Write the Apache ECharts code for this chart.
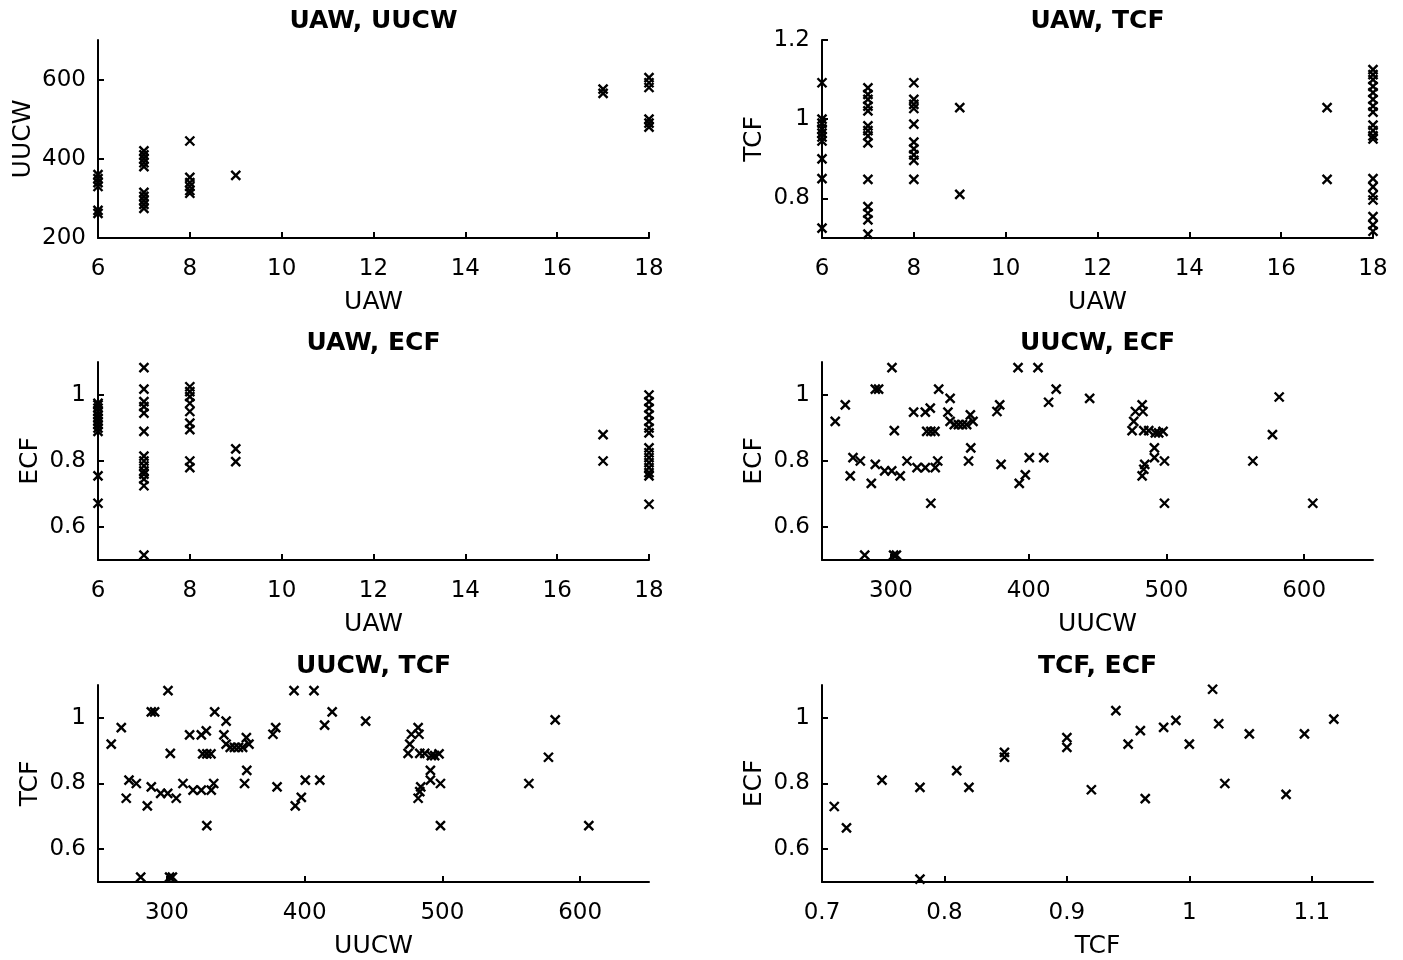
<!DOCTYPE html>
<html><head><meta charset="utf-8">
<script src="https://cdn.jsdelivr.net/npm/echarts@6/dist/echarts.min.js"></script>
<style>html,body{margin:0;padding:0;background:#fff}#c{width:1403px;height:960px}</style>
</head><body><div id="c"></div>
<script>
// ---------- data ----------
const panelTitles = ['UAW, UUCW', 'UAW, TCF', 'UAW, ECF', 'UUCW, ECF', 'UUCW, TCF', 'TCF, ECF'];

// Panel 1: UAW vs UUCW
const p1UAW  = [6,6,6,6,6,6, 7,7,7,7,7, 7,7,7,7,7, 8, 8,8,8,8,8, 9, 17,17, 18,18,18,18,18,18];
const p1UUCW = [360,350,340,330,270,262, 420,410,400,390,380, 315,305,295,285,275, 445, 353,340,330,320,313, 358, 576,565, 605,592,580,500,490,480];

// Panel 2: UAW vs TCF
const p2UAW = [6,6,6,6,6,6,6,6,6,6,
  7,7,7,7,7,7,7,7,7,7,7,7,7,7,
  8,8,8,8,8,8,8,8,8,8,
  9,9, 17,17,
  18,18,18,18,18,18,18,18,18,18,18,18,18,18,18,18,18,18,18];
const p2TCF = [1.092,1.0,0.99,0.975,0.965,0.955,0.945,0.90,0.85,0.725,
  1.079,1.0625,1.05,1.033,1.021,0.983,0.971,0.958,0.94,0.848,0.779,0.7625,0.746,0.71,
  1.092,1.05,1.0375,1.027,0.9875,0.942,0.925,0.91,0.896,0.848,
  1.029,0.81, 1.029,0.848,
  1.125,1.1125,1.1,1.083,1.067,1.05,1.033,1.018,0.985,0.971,0.958,0.95,0.85,0.829,0.808,0.796,0.754,0.733,0.717];

// Panel 3: UAW vs ECF
const p3UAW = [6,6,6,6,6,6,6,6,6,6,6,6,
  7,7,7,7,7,7,7,7,7,7,7,7,7,7,
  8,8,8,8,8,8,8,8,8,
  9,9, 17,17,
  18,18,18,18,18,18,18,18,18,18,18,18,18,18,18];
const p3ECF = [0.975,0.97,0.96,0.95,0.94,0.93,0.92,0.91,0.90,0.89,0.755,0.672,
  1.083,1.018,0.98,0.965,0.945,0.89,0.815,0.80,0.785,0.77,0.76,0.745,0.725,0.515,
  1.025,1.01,0.995,0.975,0.95,0.915,0.895,0.80,0.78,
  0.837,0.798, 0.88,0.80,
  1.0,0.98,0.96,0.94,0.92,0.90,0.885,0.84,0.825,0.81,0.795,0.78,0.765,0.755,0.669];

// Panel 4: UUCW vs ECF
const p4UUCW = [259.6,266.9,270.5,272.5,277.8,281,285.8,288.7,288.7,291.1,295.5,300.6,300.8,302.5,302,304,306.8,311.7,316.5,319,325,325,328.6,326,329,332,329,332.2,334,334.7,341.4,343,343,346,349,352,355,357.7,359.6,358,356.4,377,379,380,392.3,393.2,397.6,400.5,406.8,411,414.5,420,444.3,
  475.1,476.3,477.5,482.4,483,483.6,487.2,492,494.4,497.6,491.3,491.3,498.6,484.3,483.6,482.4,498.6,562.8,577,581.9,606.3];
const p4ECF = [0.92,0.97,0.755,0.81,0.80,0.515,0.732,0.79,1.018,1.018,0.77,0.77,1.083,0.892,0.515,0.515,0.755,0.80,0.948,0.78,0.78,0.948,0.96,0.89,0.89,0.89,0.672,0.78,0.80,1.018,0.948,0.99,0.92,0.91,0.91,0.91,0.91,0.94,0.92,0.84,0.80,0.95,0.97,0.79,1.083,0.732,0.758,0.81,1.083,0.81,0.978,1.018,0.99,
  0.892,0.92,0.95,0.97,0.95,0.892,0.892,0.885,0.885,0.89,0.84,0.81,0.80,0.79,0.775,0.755,0.672,0.80,0.88,0.994,0.672];

// Panel 5: UUCW vs TCF (same pattern as panel 4 in the source)
const p5UUCW = p4UUCW.slice();
const p5TCF  = p4ECF.slice();

// Panel 6: TCF vs ECF
const p6TCF = [0.710,0.720,0.749,0.780,0.780,0.810,0.820,0.849,0.849,0.90,0.90,0.920,0.940,0.950,0.960,0.964,0.979,0.989,1.0,1.019,1.024,1.029,1.049,1.079,1.094,1.118];
const p6ECF = [0.730,0.665,0.810,0.788,0.509,0.839,0.788,0.895,0.880,0.94,0.91,0.781,1.022,0.920,0.961,0.754,0.971,0.992,0.920,1.087,0.982,0.80,0.951,0.767,0.951,0.996];

// tick labels
const uawTicks  = [6,8,10,12,14,16,18];
const uucwYTicks = [200,400,600];
const tcfYTicks1 = [0.8,1,1.2];
const ecfTicks  = [0.6,0.8,1];
const uucwXTicks = [300,400,500,600];
const tcfXTicks = [0.7,0.8,0.9,1,1.1];

// ---------- layout ----------
const FONT = "'DejaVu Sans', 'Liberation Sans', Arial, sans-serif";
const colLeft = [98, 822];
const rowTop = [40, 362, 685];
const W = 551, H = 198;

const panels = [
  {x:[p1UAW,'UAW',6,18,uawTicks], y:[p1UUCW,'UUCW',200,700,uucwYTicks], ygap:62},
  {x:[p2UAW,'UAW',6,18,uawTicks], y:[p2TCF,'TCF',0.7,1.2,tcfYTicks1], ygap:55},
  {x:[p3UAW,'UAW',6,18,uawTicks], y:[p3ECF,'ECF',0.5,1.1,ecfTicks], ygap:55},
  {x:[p4UUCW,'UUCW',250,650,uucwXTicks], y:[p4ECF,'ECF',0.5,1.1,ecfTicks], ygap:55},
  {x:[p5UUCW,'UUCW',250,650,uucwXTicks], y:[p5TCF,'TCF',0.5,1.1,ecfTicks], ygap:55},
  {x:[p6TCF,'TCF',0.7,1.15,tcfXTicks], y:[p6ECF,'ECF',0.5,1.1,ecfTicks], ygap:55}
];

const grids = [], xAxes = [], yAxes = [], series = [], titles = [];
const axisCommon = (ticks) => ({
  type: 'value',
  axisLine: {show: true, onZero: false, lineStyle: {color: '#000', width: 2}},
  axisTick: {show: true, inside: true, length: 6, customValues: ticks, lineStyle: {color: '#000', width: 2}},
  axisLabel: {customValues: ticks, color: '#000', fontSize: 23, fontFamily: FONT},
  splitLine: {show: false},
  nameTextStyle: {color: '#000', fontSize: 25, fontFamily: FONT},
  nameLocation: 'middle'
});

panels.forEach((p, i) => {
  const r = Math.floor(i / 2), c = i % 2;
  grids.push({left: colLeft[c], top: rowTop[r], width: W, height: H, containLabel: false});
  const xa = axisCommon(p.x[4]);
  Object.assign(xa, {gridIndex: i, min: p.x[2], max: p.x[3], name: p.x[1], nameGap: 52});
  xa.axisLabel.margin = 20;
  const ya = axisCommon(p.y[4]);
  Object.assign(ya, {gridIndex: i, min: p.y[2], max: p.y[3], name: p.y[1], nameGap: p.ygap});
  ya.axisLabel.margin = 12;
  xAxes.push(xa); yAxes.push(ya);
  series.push({
    type: 'scatter', xAxisIndex: i, yAxisIndex: i,
    data: p.x[0].map((v, k) => [v, p.y[0][k]]),
    symbol: 'path://M0 0L10 10M10 0L0 10',
    symbolSize: 9,
    itemStyle: {color: '#000', borderColor: '#000', borderWidth: 2.4, opacity: 1},
    silent: true
  });
  titles.push({
    text: panelTitles[i], left: colLeft[c] + W / 2, top: rowTop[r] - 31, textAlign: 'center', padding: 0,
    textStyle: {fontSize: 25, fontWeight: 'bold', color: '#000', fontFamily: FONT}
  });
});

const chart = echarts.init(document.getElementById('c'), null, {renderer: 'canvas'});
chart.setOption({
  animation: false,
  backgroundColor: '#fff',
  title: titles,
  grid: grids,
  xAxis: xAxes,
  yAxis: yAxes,
  series: series
});
</script>
</body></html>
